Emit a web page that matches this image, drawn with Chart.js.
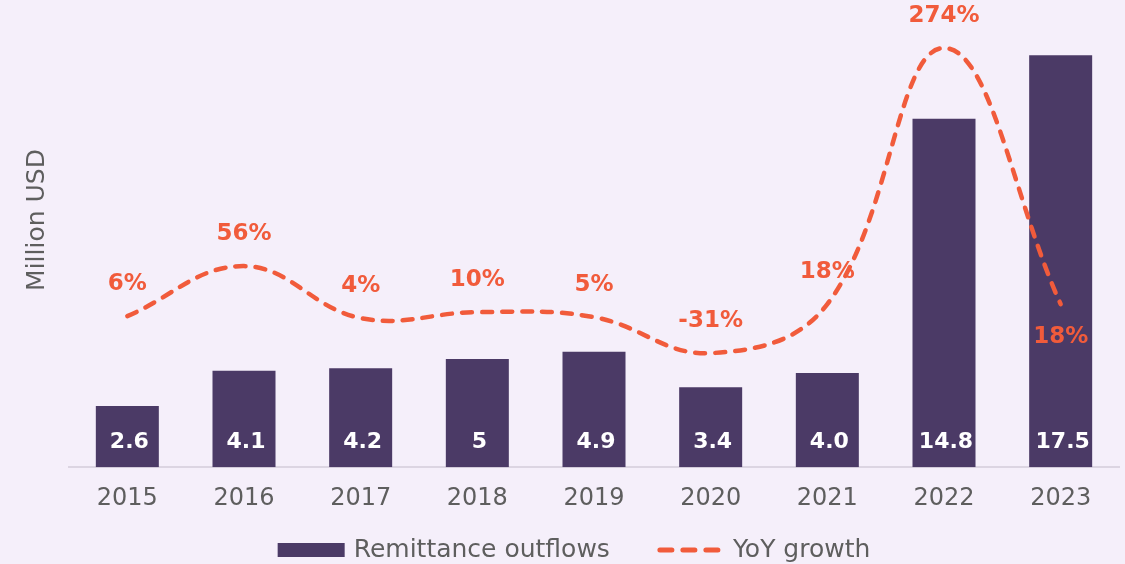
<!DOCTYPE html>
<html>
<head>
<meta charset="utf-8">
<script src="https://cdn.jsdelivr.net/npm/chart.js@4/dist/chart.umd.min.js"></script>
<style>
  html, body { margin: 0; padding: 0; background: #F5EFFA; }
  #wrap { width: 1125px; height: 564px; position: relative; }
</style>
</head>
<body>
<div id="wrap"><canvas id="c"></canvas></div>
<script>
const years = ['2015', '2016', '2017', '2018', '2019', '2020', '2021', '2022', '2023'];
const outflows = [2.6, 4.1, 4.2, 4.6, 4.9, 3.4, 4.0, 14.8, 17.5];
const outflowLabels = ['2.6', '4.1', '4.2', '5', '4.9', '3.4', '4.0', '14.8', '17.5'];
const growth = [6, 56, 4, 10, 5, -31, 18, 274, 18];
const growthLabels = ['6%', '56%', '4%', '10%', '5%', '-31%', '18%', '274%', '18%'];

const BG = '#F5EFFA';
const BAR = '#4B3A66';
const LINE = '#F15B3B';
const TEXT = '#5E5E5E';
const FONT = "'DejaVu Sans', Verdana, sans-serif";

const customDraw = {
  id: 'customDraw',
  beforeDraw(chart) {
    const ctx = chart.ctx;
    ctx.save();
    ctx.fillStyle = BG;
    ctx.fillRect(0, 0, chart.width, chart.height);
    ctx.restore();
  },
  afterDatasetsDraw(chart) {
    const ctx = chart.ctx;
    const area = chart.chartArea;
    ctx.save();
    // bar value labels
    const barMeta = chart.getDatasetMeta(1);
    ctx.font = "bold 22px " + FONT;
    ctx.fillStyle = '#FFFFFF';
    ctx.textAlign = 'center';
    ctx.textBaseline = 'middle';
    barMeta.data.forEach((el, i) => {
      ctx.fillText(outflowLabels[i], el.x + 2, area.bottom - 25);
    });
    // growth labels
    const lineMeta = chart.getDatasetMeta(0);
    ctx.font = "bold 23px " + FONT;
    ctx.fillStyle = LINE;
    lineMeta.data.forEach((el, i) => {
      const below = i === lineMeta.data.length - 1;
      ctx.fillText(growthLabels[i], el.x, below ? el.y + 33 : el.y - 32);
    });
    // y axis title
    ctx.save();
    ctx.translate(37, 220);
    ctx.rotate(-Math.PI / 2);
    ctx.font = "25px " + FONT;
    ctx.fillStyle = TEXT;
    ctx.fillText('Million USD', 0, 0);
    ctx.restore();
    // legend
    const ly = 550;
    ctx.font = "25px " + FONT;
    const t1 = chart.data.datasets[1].label;
    const t2 = chart.data.datasets[0].label;
    const w1 = ctx.measureText(t1).width;
    const w2 = ctx.measureText(t2).width;
    const boxW = 67, gapT = 9, gapItem = 47, lineW = 65, gapT2 = 11;
    const total = boxW + gapT + w1 + gapItem + lineW + gapT2 + w2;
    let x = 574 - total / 2;
    ctx.fillStyle = BAR;
    ctx.fillRect(x, ly - 7, boxW, 14);
    x += boxW + gapT;
    ctx.fillStyle = TEXT;
    ctx.textAlign = 'left';
    ctx.fillText(t1, x, ly);
    x += w1 + gapItem;
    ctx.strokeStyle = LINE;
    ctx.lineWidth = 5;
    ctx.lineCap = 'round';
    ctx.setLineDash([12, 11]);
    ctx.beginPath();
    ctx.moveTo(x + 3, ly);
    ctx.lineTo(x + lineW - 3, ly);
    ctx.stroke();
    ctx.setLineDash([]);
    x += lineW + gapT2;
    ctx.fillText(t2, x, ly);
    ctx.restore();
  }
};

new Chart(document.getElementById('c'), {
  data: {
    labels: years,
    datasets: [
      {
        type: 'line',
        label: 'YoY growth',
        data: growth,
        yAxisID: 'y2',
        borderColor: LINE,
        backgroundColor: LINE,
        borderWidth: 4.5,
        borderDash: [10, 10],
        borderCapStyle: 'round',
        tension: 0.4,
        pointRadius: 0,
        pointHoverRadius: 0,
        clip: false,
        order: 0
      },
      {
        type: 'bar',
        label: 'Remittance outflows',
        data: outflows,
        yAxisID: 'y',
        backgroundColor: BAR,
        borderWidth: 0,
        categoryPercentage: 1,
        barPercentage: 0.54,
        order: 1
      }
    ]
  },
  options: {
    responsive: true,
    maintainAspectRatio: false,
    devicePixelRatio: 1,
    animation: false,
    events: [],
    layout: { padding: { left: 69, right: 6, top: 20, bottom: 34 } },
    plugins: {
      legend: { display: false },
      tooltip: { enabled: false }
    },
    scales: {
      x: {
        offset: true,
        grid: { display: false, drawTicks: false },
        border: { display: true, color: '#DCD5E2', width: 2 },
        ticks: { color: TEXT, font: { family: FONT, size: 24 }, padding: 17, maxRotation: 0 }
      },
      y: { display: false, min: 0, max: 19 },
      y2: { display: false, min: -145, max: 302 }
    }
  },
  plugins: [customDraw]
});
</script>
</body>
</html>
